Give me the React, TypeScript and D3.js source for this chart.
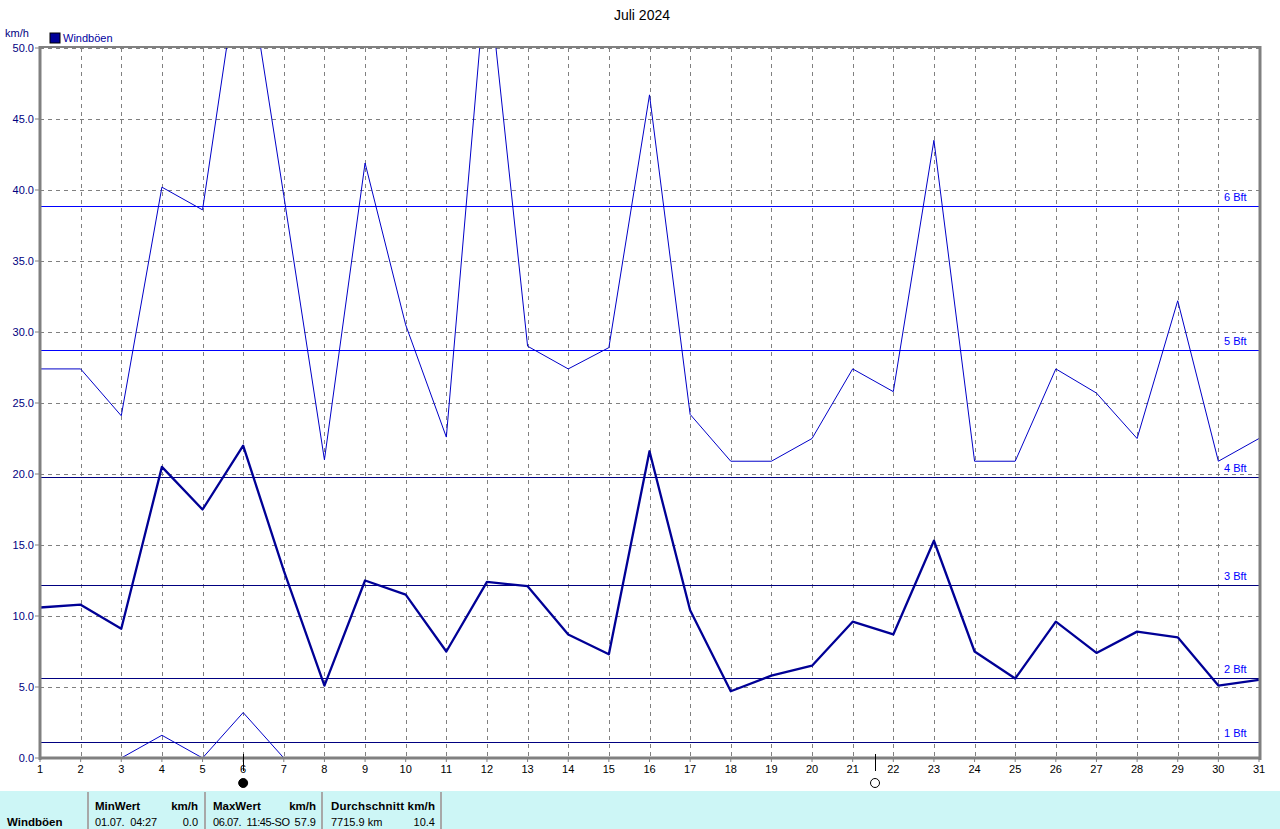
import React from "react";
import * as d3 from "d3";

const days = d3.range(1, 32);
// Windböen max per day (km/h)
const maxGust = [
  27.4, 27.4, 24.1, 40.2, 38.6, 57.9, 39.6, 21.0, 41.9, 30.5, 22.6, 56.0, 29.0,
  27.4, 28.9, 46.7, 24.2, 20.9, 20.9, 22.5, 27.4, 25.8, 43.5, 20.9, 20.9, 27.4,
  25.7, 22.5, 32.2, 20.9, 22.5,
];
// average per day
const avgGust = [
  10.6, 10.8, 9.1, 20.5, 17.5, 22.0, 13.2, 5.1, 12.5, 11.5, 7.5, 12.4, 12.1, 8.7,
  7.3, 21.6, 10.4, 4.7, 5.8, 6.5, 9.6, 8.7, 15.3, 7.5, 5.6, 9.6, 7.4, 8.9, 8.5,
  5.1, 5.5,
];
// min per day
const minGust = [
  0, 0, 0, 1.6, 0, 3.2, 0, 0, 0, 0, 0, 0, 0, 0, 0, 0, 0, 0, 0, 0, 0, 0, 0, 0, 0,
  0, 0, 0, 0, 0, 0,
];
const bftLabels = ["1 Bft", "2 Bft", "3 Bft", "4 Bft", "5 Bft", "6 Bft"];
const bftValues = [1.1, 5.6, 12.2, 19.8, 28.7, 38.9];
const yTicks = d3.range(0, 55, 5);
const moonDays = [{ day: 6, full: false }, { day: 21.55, full: true }];

const W = 1280;
const H = 829;
const margin = { top: 48, bottom: 71, left: 40, right: 21 };

function App() {
  const x = d3
    .scaleLinear()
    .domain([1, 31])
    .range([margin.left, W - margin.right]);
  const y = d3
    .scaleLinear()
    .domain([0, 50])
    .range([H - margin.bottom, margin.top]);

  const line = (vals: number[]) =>
    d3
      .line<number>()
      .x((d, i) => x(days[i]))
      .y((d) => y(d))(vals) as string;

  const font = "'Liberation Sans', Arial, sans-serif";
  const x0 = margin.left;
  const x1 = W - margin.right;
  const yb = y(0);
  const yt = y(50);
  const sp = "\u00a0\u00a0";

  return (
    <svg
      width={W}
      height={H}
      style={{ position: "absolute", left: 0, top: 0, background: "#fff" }}
      fontFamily={font}
    >
      <defs>
        <clipPath id="plot">
          <rect x={x0} y={yt} width={x1 - x0} height={yb - yt} />
        </clipPath>
      </defs>

      {/* title */}
      <text x={642} y={20} textAnchor="middle" fontSize={14} fill="#000">
        Juli 2024
      </text>
      <text x={5} y={37} fontSize={11} fill="#000080">
        km/h
      </text>
      <rect x={50} y={33} width={10} height={10} fill="#000099" stroke="#000" />
      <text x={63} y={42} fontSize={11} fill="#0000a0">
        Windböen
      </text>

      {/* grid */}
      {days.map((d) => (
        <line
          key={"gx" + d}
          x1={Math.round(x(d)) + 0.5}
          x2={Math.round(x(d)) + 0.5}
          y1={yt}
          y2={yb}
          stroke="#808080"
          strokeDasharray="4,4"
        />
      ))}
      {yTicks.map((t) => (
        <line
          key={"gy" + t}
          x1={x0}
          x2={x1}
          y1={Math.round(y(t)) + 0.5}
          y2={Math.round(y(t)) + 0.5}
          stroke="#808080"
          strokeDasharray="4,4"
        />
      ))}

      {/* Beaufort lines */}
      {bftValues.map((v, i) => (
        <g key={"bft" + i}>
          <line
            x1={x0}
            x2={x1}
            y1={Math.round(y(v)) + 0.5}
            y2={Math.round(y(v)) + 0.5}
            stroke={i >= 4 ? "#0000ff" : "#000080"}
          />
          <text x={1224} y={y(v) - 5} fontSize={11} fill="#0000ff">
            {bftLabels[i]}
          </text>
        </g>
      ))}

      {/* series */}
      <g clipPath="url(#plot)" fill="none">
        <path d={line(minGust)} stroke="#0000c8" strokeWidth={1} />
        <path d={line(maxGust)} stroke="#0000c8" strokeWidth={1} />
        <path
          d={line(avgGust)}
          stroke="#000096"
          strokeWidth={2.3}
          strokeLinejoin="round"
        />
      </g>

      {/* frame */}
      <line x1={x0} x2={x1 + 1} y1={yt - 1} y2={yt - 1} stroke="#808080" strokeWidth={2} />
      <line x1={x0 - 1} x2={x1 + 1} y1={yb} y2={yb} stroke="#808080" strokeWidth={3} />
      <line x1={x0} x2={x0} y1={yt - 2} y2={yb + 2} stroke="#808080" strokeWidth={3} />
      <line x1={x1 + 1} x2={x1 + 1} y1={yt - 2} y2={yb + 2} stroke="#808080" strokeWidth={3} />

      {/* y axis */}
      {yTicks.map((t) => (
        <g key={"yt" + t}>
          <line x1={x0 - 5} x2={x0} y1={y(t)} y2={y(t)} stroke="#808080" />
          <text
            x={x0 - 6}
            y={y(t) + 4}
            textAnchor="end"
            fontSize={11}
            fill="#000080"
          >
            {d3.format(".1f")(t)}
          </text>
        </g>
      ))}

      {/* x axis */}
      {days.map((d) => (
        <g key={"xt" + d}>
          <line x1={x(d)} x2={x(d)} y1={yb} y2={yb + 4} stroke="#808080" />
          <text x={x(d)} y={yb + 15} textAnchor="middle" fontSize={11} fill="#000">
            {d}
          </text>
        </g>
      ))}

      {/* moon phases */}
      {moonDays.map((m) => (
        <g key={"moon" + m.day}>
          <line
            x1={Math.round(x(m.day)) + 0.5}
            x2={Math.round(x(m.day)) + 0.5}
            y1={yb - 4}
            y2={yb + 13}
            stroke="#000"
          />
          <circle
            cx={x(m.day)}
            cy={yb + 25}
            r={4.5}
            fill={m.full ? "#fff" : "#000"}
            stroke="#000"
          />
        </g>
      ))}

      {/* table */}
      <rect x={0} y={791} width={W} height={H - 791} fill="#cdf6f6" />
      {[88, 205, 322, 441].map((sx) => (
        <line key={"sep" + sx} x1={sx} x2={sx} y1={792} y2={H} stroke="#a8a8a8" strokeWidth={2} />
      ))}
      <g fontSize={11.5} fill="#000">
        <text x={7} y={826} fontWeight="bold">Windböen</text>
        <text x={95} y={810} fontWeight="bold">MinWert</text>
        <text x={198} y={810} fontWeight="bold" textAnchor="end">km/h</text>
        <text x={213} y={810} fontWeight="bold">MaxWert</text>
        <text x={316} y={810} fontWeight="bold" textAnchor="end">km/h</text>
        <text x={331} y={810} fontWeight="bold" textLength={104}>Durchschnitt km/h</text>
      </g>
      <g fontSize={11} fill="#000">
        <text x={95} y={826} textLength={62}>{"01.07." + sp + "04:27"}</text>
        <text x={198} y={826} textAnchor="end">0.0</text>
        <text x={213} y={826} textLength={77}>{"06.07." + sp + "11:45-SO"}</text>
        <text x={316} y={826} textAnchor="end">57.9</text>
        <text x={331} y={826}>7715.9 km</text>
        <text x={435} y={826} textAnchor="end">10.4</text>
      </g>
    </svg>
  );
}

export default App;
